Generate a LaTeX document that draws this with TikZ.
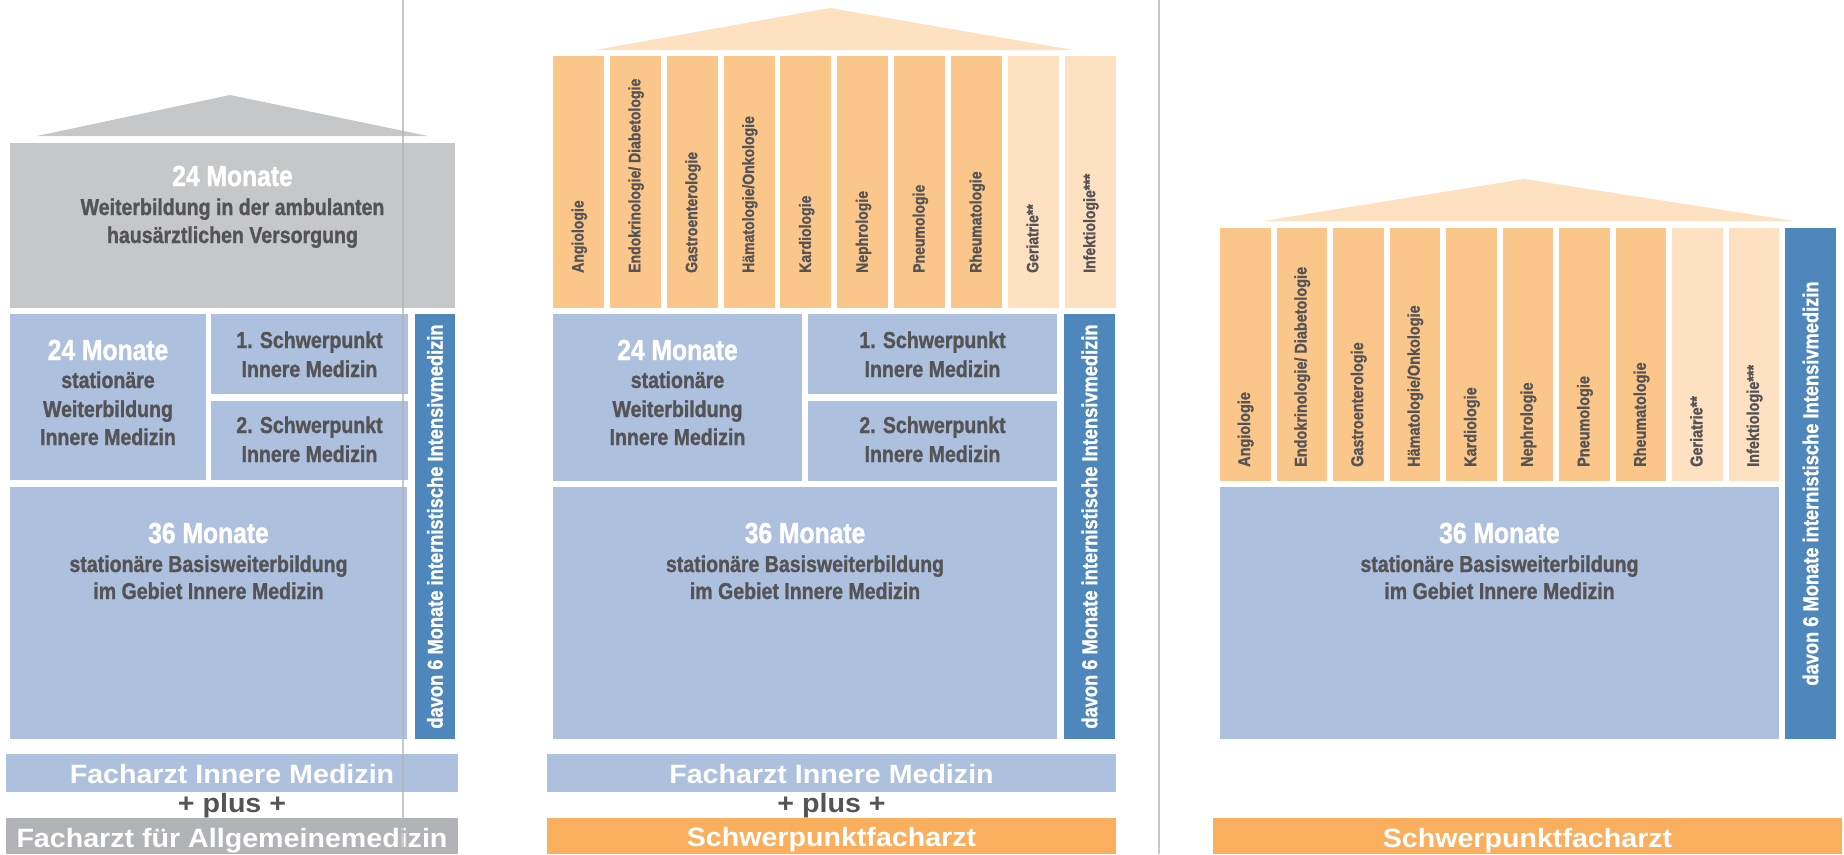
\documentclass[tikz,border=0pt]{standalone}
\usepackage{fontspec}
\setmainfont{Liberation Sans}
\newfontfamily\cnd[FakeStretch=0.85,FakeBold=1.2]{Liberation Sans}
\newfontfamily\wde[FakeStretch=1.08]{Liberation Sans}

\definecolor{roofgray}{HTML}{C6C7C9}
\definecolor{barblue}{HTML}{ADC0DE}
\definecolor{deepblue}{HTML}{4E87BC}
\definecolor{colO}{HTML}{FBC68A}
\definecolor{colP}{HTML}{FDE1C1}
\definecolor{barorange}{HTML}{F9AF5E}
\definecolor{bargray}{HTML}{B2B3B6}
\definecolor{txt}{HTML}{545456}
\definecolor{sepline}{RGB}{181,181,181}

% rectangular block from corner (x1,y1) to (x2,y2), y counted downwards
\newcommand\blk[6]{\node[blk,#2,anchor=north west,minimum width=#5pt-#3pt,minimum height=#6pt-#4pt] (#1) at (#3,#4) {};}

\begin{document}
\begin{tikzpicture}[x=1pt,y=-1pt,
  blk/.style={rectangle,inner sep=0pt,outer sep=0pt,draw=none},
  head/.style={font={\cnd\bfseries\fontsize{29}{34}\selectfont},text=white,anchor=base,inner sep=0pt},
  body/.style={font={\cnd\bfseries\fontsize{23}{28}\selectfont},text=txt,anchor=base,inner sep=0pt},
  collabel/.style={font={\cnd\bfseries\fontsize{#1}{20}\selectfont},text=txt,rotate=90,anchor=base west,inner sep=0pt},
  striplabel/.style={font={\cnd\bfseries\fontsize{21.5}{25}\selectfont},text=white,rotate=90,anchor=center,inner sep=0pt},
  barlabel/.style={font={\wde\bfseries\fontsize{26.5}{30}\selectfont},text=white,anchor=base,inner sep=0pt},
  pluslabel/.style={font={\wde\bfseries\fontsize{26.5}{30}\selectfont},text=txt,anchor=base,inner sep=0pt},
  sep/.style={draw=sepline,opacity=0.74,line width=1.3pt}]
\useasboundingbox (0,0) rectangle (1844,854);

% ---------- Allgemeinmedizin ----------
\fill[roofgray] (37,136) -- (230,95) -- (428,136) -- cycle;
\blk{Lamb}{fill=roofgray}{10}{143}{455}{308}
\blk{Lw24}{fill=barblue}{10}{314}{206}{480}
\blk{Lsp1}{fill=barblue}{211}{314}{408}{394}
\blk{Lsp2}{fill=barblue}{211}{401}{408}{480}
\blk{Lint}{fill=deepblue}{415}{314}{455}{739}
\blk{Lb36}{fill=barblue}{10}{487}{407}{739}
\blk{Lfa}{fill=barblue}{6}{754}{458}{792}
\blk{Lam}{fill=bargray}{6}{818}{458}{854}

\node[head] (La1) at (232.5,186) {24 Monate};
\node[body] (La2) at (232.5,215) {Weiterbildung in der ambulanten};
\node[body] (La3) at (232.5,243) {hausärztlichen Versorgung};

\node[head] (Lw1) at (108,360) {24 Monate};
\node[body] (Lw2) at (108,388) {stationäre};
\node[body] (Lw3) at (108,417) {Weiterbildung};
\node[body] (Lw4) at (108,445) {Innere Medizin};

\node[body] (Ls1) at (309.5,348) {1. Schwerpunkt};
\node[body] (Ls2) at (309.5,377) {Innere Medizin};
\node[body] (Ls3) at (309.5,433) {2. Schwerpunkt};
\node[body] (Ls4) at (309.5,462) {Innere Medizin};

\node[head] (Lb1) at (208.5,543) {36 Monate};
\node[body] (Lb2) at (208.5,572) {stationäre Basisweiterbildung};
\node[body] (Lb3) at (208.5,599) {im Gebiet Innere Medizin};

\node[striplabel] (Li) at (Lint.center) {davon 6 Monate internistische Intensivmedizin};

\node[barlabel] (Lf) at (232,783) {Facharzt Innere Medizin};
\node[pluslabel] (Lp) at (232,812) {+ plus +};
\node[barlabel] (Lg) at (232,847) {Facharzt für Allgemeinemedizin};

% ---------- Innere Medizin mit Schwerpunkt ----------
\fill[colP] (595,50) -- (830,8) -- (1073,50) -- cycle;
\foreach \t [count=\i from 0] in {Angiologie,{Endokrinologie/ Diabetologie},Gastroenterologie,{Hämatologie/Onkologie},Kardiologie,Nephrologie,Pneumologie,Rheumatologie,Geriatrie**,Infektiologie***}{
  \ifnum\i<8 \def\fc{colO}\else\def\fc{colP}\fi
  \pgfmathsetmacro\xl{553+56.85*\i}
  \node[blk,fill=\fc,anchor=north west,minimum width=51pt,minimum height=252pt] (Mc\i) at (\xl,56) {};
  \node[collabel=16.5] (Mt\i) at (\xl+30.5,273) {\t};
}
\blk{Mw24}{fill=barblue}{553}{314}{802}{481}
\blk{Msp1}{fill=barblue}{808}{314}{1057}{394}
\blk{Msp2}{fill=barblue}{808}{401}{1057}{481}
\blk{Mint}{fill=deepblue}{1064}{314}{1115}{739}
\blk{Mb36}{fill=barblue}{553}{487}{1057}{739}
\blk{Mfa}{fill=barblue}{547}{754}{1116}{792}
\blk{Msf}{fill=barorange}{547}{818}{1116}{854}

\node[head] (Mw1) at (677.5,360) {24 Monate};
\node[body] (Mw2) at (677.5,388) {stationäre};
\node[body] (Mw3) at (677.5,417) {Weiterbildung};
\node[body] (Mw4) at (677.5,445) {Innere Medizin};

\node[body] (Ms1) at (932.5,348) {1. Schwerpunkt};
\node[body] (Ms2) at (932.5,377) {Innere Medizin};
\node[body] (Ms3) at (932.5,433) {2. Schwerpunkt};
\node[body] (Ms4) at (932.5,462) {Innere Medizin};

\node[head] (Mb1) at (805,543) {36 Monate};
\node[body] (Mb2) at (805,572) {stationäre Basisweiterbildung};
\node[body] (Mb3) at (805,599) {im Gebiet Innere Medizin};

\node[striplabel] (Mi) at (Mint.center) {davon 6 Monate internistische Intensivmedizin};

\node[barlabel] (Mf) at (831.5,783) {Facharzt Innere Medizin};
\node[pluslabel] (Mp) at (831.5,812) {+ plus +};
\node[barlabel] (Ms) at (831.5,846) {Schwerpunktfacharzt};

% ---------- Schwerpunktfacharzt ----------
\fill[colP] (1263,221) -- (1524,179) -- (1794,221) -- cycle;
\foreach \t [count=\i from 0] in {Angiologie,{Endokrinologie/ Diabetologie},Gastroenterologie,{Hämatologie/Onkologie},Kardiologie,Nephrologie,Pneumologie,Rheumatologie,Geriatrie**,Infektiologie***}{
  \ifnum\i<8 \def\fc{colO}\else\def\fc{colP}\fi
  \pgfmathsetmacro\xl{1220+56.55*\i}
  \node[blk,fill=\fc,anchor=north west,minimum width=50.5pt,minimum height=253pt] (Rc\i) at (\xl,228) {};
  \node[collabel=17] (Rt\i) at (\xl+30,467) {\t};
}
\blk{Rint}{fill=deepblue}{1785}{228}{1836}{739}
\blk{Rb36}{fill=barblue}{1220}{487}{1779}{739}
\blk{Rsf}{fill=barorange}{1213}{818}{1842}{854}

\node[head] (Rb1) at (1499.5,543) {36 Monate};
\node[body] (Rb2) at (1499.5,572) {stationäre Basisweiterbildung};
\node[body] (Rb3) at (1499.5,599) {im Gebiet Innere Medizin};

\node[striplabel] (Ri) at (Rint.center) {davon 6 Monate internistische Intensivmedizin};

\node[barlabel] (Rs) at (1527.5,847) {Schwerpunktfacharzt};

% ---------- thin separators ----------
\coordinate (s1t) at (403,0);
\coordinate (s1b) at (403,854);
\coordinate (s2t) at (1159,0);
\coordinate (s2b) at (1159,854);
\draw[sep] (s1t) -- (s1b);
\draw[sep] (s2t) -- (s2b);
\end{tikzpicture}
\end{document}
